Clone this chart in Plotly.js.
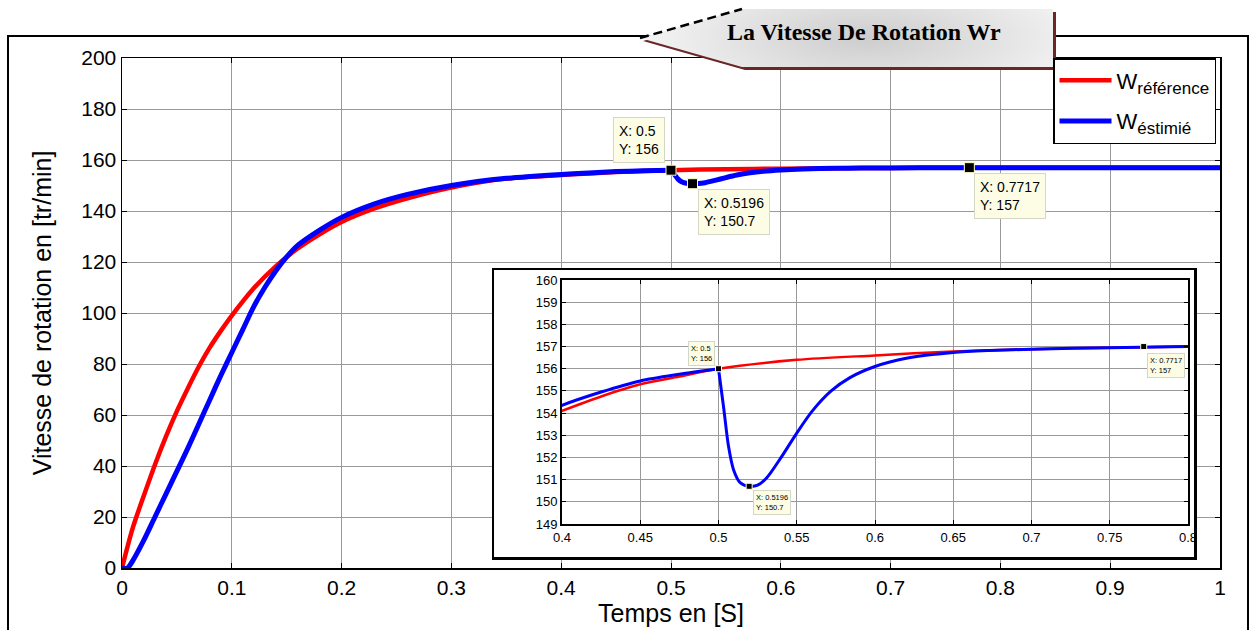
<!DOCTYPE html>
<html><head><meta charset="utf-8">
<script src="https://cdn.plot.ly/plotly-3.0.1.min.js"></script>
<style>html,body{margin:0;padding:0;background:#fff}#chart{width:1250px;height:630px}</style>
</head><body><div id="chart"></div>
<script>
// ---- data ----
const tRef = [0, 0.01, 0.02, 0.03, 0.04, 0.05, 0.06, 0.07, 0.08, 0.09, 0.1, 0.12, 0.14, 0.16, 0.18, 0.2, 0.23, 0.26, 0.3, 0.35, 0.4, 0.425, 0.45, 0.475, 0.5, 0.55, 0.6, 0.65, 0.7, 0.75, 0.8, 0.9, 1.0];
const wRef = [0, 16, 28.5, 40.5, 51.5, 61.5, 70.5, 79, 86.5, 93, 99, 109.7, 118.3, 125.3, 130.9, 135.7, 141, 145, 149.2, 152.7, 154.1, 154.75, 155.3, 155.65, 156.0, 156.4, 156.6, 156.78, 156.88, 156.95, 157.0, 157.0, 157.0];
const tEst = [0, 0.005, 0.01, 0.02, 0.03, 0.04, 0.05, 0.06, 0.07, 0.08, 0.09, 0.1, 0.11, 0.12, 0.13, 0.14, 0.15, 0.16, 0.18, 0.2, 0.23, 0.26, 0.3, 0.35, 0.4, 0.425, 0.45, 0.475, 0.5, 0.5032, 0.5064, 0.5096, 0.514, 0.5196, 0.525, 0.531, 0.54, 0.55, 0.56, 0.572, 0.584, 0.6, 0.62, 0.65, 0.673, 0.7, 0.75, 0.8, 0.9, 1.0];
const wEst = [0, 0, 3, 11, 20, 29, 38, 47, 56.5, 66, 75.5, 84.5, 93.5, 102.5, 110, 116.5, 122, 126.5, 132.5, 137.5, 142.8, 146.5, 150, 152.8, 154.35, 154.95, 155.45, 155.75, 156.0, 154.3, 152.5, 151.45, 150.85, 150.7, 150.75, 151.1, 152.0, 153.1, 154.1, 155.0, 155.6, 156.1, 156.47, 156.73, 156.82, 156.88, 156.95, 157.0, 157.0, 157.0];
const tipX = [0.5, 0.5196, 0.7717];
const tipY = [156, 150.7, 157];
const seriesNames = ['W<sub><span style="font-size:17px">référence</span></sub>', 'W<sub><span style="font-size:17px">éstimié</span></sub>'];
const titleText = 'La Vitesse De Rotation Wr';
const xTitle = 'Temps en [S]';
const yTitle = 'Vitesse de rotation en [tr/min]';

// ---- geometry helpers (pixel -> paper) ----
const W = 1250, H = 630, mL = 122, mR = 30, mT = 58, mB = 62;
const pw = W - mL - mR, ph = H - mT - mB;
const PX = p => (p - mL) / pw;
const PY = p => (H - mB - p) / ph;
const font = 'Liberation Sans, Arial, sans-serif';
const tipText = (x, y) => 'X: ' + x + '<br>Y: ' + y;

// split the estimated curve at the load step (sharp corner) so splines stay faithful
const iStep = tEst.indexOf(0.5);
const tEstA = tEst.slice(0, iStep + 1), wEstA = wEst.slice(0, iStep + 1);
const tEstB = tEst.slice(iStep), wEstB = wEst.slice(iStep);
const sp = {shape: 'spline', smoothing: 0.8};

const traces = [
  {x: tRef, y: wRef, mode: 'lines', name: seriesNames[0], legendgroup: 'r', line: Object.assign({color: '#ff0000', width: 4.5}, sp), xaxis: 'x', yaxis: 'y'},
  {x: tEstA, y: wEstA, mode: 'lines', name: seriesNames[1], legendgroup: 'b', line: Object.assign({color: '#0000ff', width: 5}, sp), xaxis: 'x', yaxis: 'y'},
  {x: tEstB, y: wEstB, mode: 'lines', name: seriesNames[1], legendgroup: 'b', showlegend: false, line: Object.assign({color: '#0000ff', width: 5}, sp), xaxis: 'x', yaxis: 'y'},
  {x: tipX, y: tipY, mode: 'markers', showlegend: false, marker: {symbol: 'square', size: 10, color: '#000', line: {color: '#ffffcc', width: 1}}, xaxis: 'x', yaxis: 'y'},
  {x: [0, 1], y: [0, 1], mode: 'none', showlegend: false, hoverinfo: 'skip', xaxis: 'x2', yaxis: 'y2'},
  {x: tRef, y: wRef, mode: 'lines', showlegend: false, line: Object.assign({color: '#ff0000', width: 2.5}, sp), xaxis: 'x3', yaxis: 'y3'},
  {x: tEstA, y: wEstA, mode: 'lines', showlegend: false, line: Object.assign({color: '#0000ff', width: 3}, sp), xaxis: 'x3', yaxis: 'y3'},
  {x: tEstB, y: wEstB, mode: 'lines', showlegend: false, line: Object.assign({color: '#0000ff', width: 3}, sp), xaxis: 'x3', yaxis: 'y3'},
  {x: tipX, y: tipY, mode: 'markers', showlegend: false, marker: {symbol: 'square', size: 6, color: '#000', line: {color: '#ffffcc', width: 1}}, xaxis: 'x3', yaxis: 'y3'}
];

const annotations = [];
const mainShift = [[-6, 7, 'right', 'bottom'], [5, -5, 'left', 'top'], [5, -5, 'left', 'top']];
const insetShift = [[-4, 3, 'right', 'bottom'], [4, -4, 'left', 'top'], [3, -6, 'left', 'top']];
tipX.forEach((x, i) => {
  annotations.push({x: x, y: tipY[i], xref: 'x', yref: 'y', text: tipText(x, tipY[i]), showarrow: false,
    xanchor: mainShift[i][2], yanchor: mainShift[i][3], xshift: mainShift[i][0], yshift: mainShift[i][1],
    align: 'left', bgcolor: '#fdfde6', bordercolor: '#d6d6c4', borderwidth: 1, borderpad: 5,
    font: {family: font, size: 14, color: '#000'}});
  annotations.push({x: x, y: tipY[i], xref: 'x3', yref: 'y3', text: tipText(x, tipY[i]), showarrow: false,
    xanchor: insetShift[i][2], yanchor: insetShift[i][3], xshift: insetShift[i][0], yshift: insetShift[i][1],
    align: 'left', bgcolor: '#fdfde6', bordercolor: '#d6d6c4', borderwidth: 1, borderpad: 2,
    font: {family: font, size: 7.5, color: '#000'}});
});
annotations.push({x: PX(864), y: PY(32), xref: 'paper', yref: 'paper', text: '<b>' + titleText + '</b>', showarrow: false,
  xanchor: 'center', yanchor: 'middle', font: {family: 'Liberation Serif, Times New Roman, serif', size: 24, color: '#000'}});

// banner graphic (shape only, text is an annotation)
const bannerSvg = '<svg xmlns="http://www.w3.org/2000/svg" width="424" height="66" viewBox="0 0 424 66">' +
  '<defs><radialGradient id="g" cx="0.55" cy="0.5" r="0.6" gradientTransform="translate(0.55 0.5) scale(1 2.2) translate(-0.55 -0.5)">' +
  '<stop offset="0" stop-color="#cdcdcd"/><stop offset="0.55" stop-color="#e4e4e4"/><stop offset="1" stop-color="#f8f8f8"/></radialGradient></defs>' +
  '<polygon points="7,35 109,6 420,6 420,64 109,64" fill="#6b2626"/>' +
  '<polygon points="4,32 106,3 417,3 417,61 106,61" fill="url(#g)"/>' +
  '<line x1="4" y1="32" x2="106" y2="3" stroke="#000" stroke-width="2.5" stroke-dasharray="9,5"/>' +
  '</svg>';

const layout = {
  width: W, height: H,
  margin: {l: mL, r: mR, t: mT, b: mB},
  paper_bgcolor: '#fff', plot_bgcolor: '#fff',
  font: {family: font, color: '#000'},
  showlegend: true,
  legend: {x: PX(1053), y: PY(58), xanchor: 'left', yanchor: 'top', bgcolor: '#fff', bordercolor: '#000', borderwidth: 1.5,
    font: {family: font, size: 22, color: '#000'}, itemwidth: 52, tracegroupgap: 9, traceorder: 'grouped'},
  xaxis: {domain: [0, 1], range: [0, 1], dtick: 0.1, tick0: 0, showgrid: true, gridcolor: '#9a9a9a', gridwidth: 1,
    zeroline: false, showline: true, linecolor: '#000', linewidth: 1.5, mirror: 'ticks', ticks: 'inside', ticklen: 5, tickcolor: '#000',
    tickfont: {size: 21, family: font}, title: {text: xTitle, font: {size: 25, family: font}, standoff: 6}},
  yaxis: {domain: [0, 1], range: [0, 200], dtick: 20, tick0: 0, showgrid: true, gridcolor: '#9a9a9a', gridwidth: 1,
    zeroline: false, showline: true, linecolor: '#000', linewidth: 1.5, mirror: 'ticks', ticks: 'inside', ticklen: 5, tickcolor: '#000',
    tickfont: {size: 21, family: font}, title: {text: yTitle, font: {size: 25, family: font}, standoff: 22}},
  xaxis2: {domain: [PX(494), PX(1194)], range: [0, 1], anchor: 'y2', showgrid: false, zeroline: false, showticklabels: false,
    showline: true, mirror: true, linecolor: '#000', linewidth: 2.5, ticks: ''},
  yaxis2: {domain: [PY(557), PY(270)], range: [0, 1], anchor: 'x2', showgrid: false, zeroline: false, showticklabels: false,
    showline: true, mirror: true, linecolor: '#000', linewidth: 2.5, ticks: ''},
  xaxis3: {domain: [PX(562), PX(1188)], range: [0.4, 0.8], dtick: 0.05, tick0: 0.4, anchor: 'y3', showgrid: true, gridcolor: '#999', gridwidth: 1,
    zeroline: false, showline: true, mirror: 'ticks', linecolor: '#000', linewidth: 2, ticks: 'inside', ticklen: 4, tickcolor: '#000',
    tickfont: {size: 13, family: font}},
  yaxis3: {domain: [PY(524), PY(280)], range: [149, 160], dtick: 1, tick0: 149, anchor: 'x3', showgrid: true, gridcolor: '#999', gridwidth: 1,
    zeroline: false, showline: true, mirror: 'ticks', linecolor: '#000', linewidth: 2, ticks: 'inside', ticklen: 4, tickcolor: '#000',
    tickfont: {size: 13, family: font}},
  shapes: [
    {type: 'rect', xref: 'paper', yref: 'paper', x0: PX(8), x1: PX(1248), y0: PY(660), y1: PY(36), line: {color: '#000', width: 2}, fillcolor: 'rgba(0,0,0,0)', layer: 'below'}
  ],
  images: [
    {source: 'data:image/svg+xml;charset=utf-8,' + encodeURIComponent(bannerSvg), xref: 'paper', yref: 'paper',
      x: PX(636), y: PY(6), sizex: 424 / pw, sizey: 66 / ph, xanchor: 'left', yanchor: 'top', sizing: 'stretch', layer: 'above'}
  ],
  annotations: annotations
};

Plotly.newPlot('chart', traces, layout, {displayModeBar: false, staticPlot: true});
</script>
</body></html>
